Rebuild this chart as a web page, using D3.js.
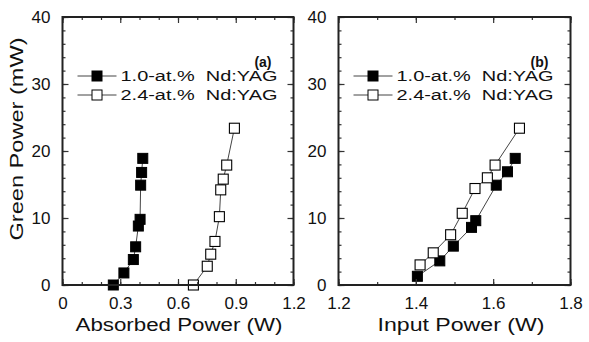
<!DOCTYPE html>
<html>
<head>
<meta charset="utf-8">
<script src="https://cdn.jsdelivr.net/npm/d3@7"></script>
<style>
  html, body { margin: 0; padding: 0; background: #fff; }
  svg { display: block; font-family: "Liberation Sans", Arial, sans-serif; }
</style>
</head>
<body>
<svg id="chart" width="589" height="342"></svg>
<script>
// Green output power versus pump power for two Nd:YAG doping levels
const seriesNames = ["1.0-at.%  Nd:YAG", "2.4-at.%  Nd:YAG"];

// (a) absorbed pump power (W) and green power (mW)
const absorbed10 = [0.264, 0.319, 0.368, 0.380, 0.394, 0.403, 0.406, 0.411, 0.417];
const green10a   = [0, 1.8, 3.8, 5.7, 8.8, 9.8, 14.9, 16.8, 18.9];
const absorbed24 = [0.680, 0.752, 0.770, 0.792, 0.815, 0.822, 0.835, 0.853, 0.893];
const green24a   = [0, 2.8, 4.6, 6.5, 10.2, 14.2, 15.8, 17.9, 23.4];

// (b) input pump power (W) and green power (mW)
const input10  = [1.404, 1.462, 1.497, 1.544, 1.555, 1.608, 1.637, 1.657];
const green10b = [1.3, 3.6, 5.8, 8.6, 9.6, 14.9, 16.9, 18.9];
const input24  = [1.411, 1.445, 1.490, 1.520, 1.553, 1.585, 1.605, 1.668];
const green24b = [3.0, 4.8, 7.5, 10.7, 14.4, 16.0, 17.9, 23.4];

// axis ticks
const yTicks = [0, 10, 20, 30, 40];
const yMinor = d3.range(0, 40.01, 2);
const xTicksA = [0, 0.3, 0.6, 0.9, 1.2];
const xMinorA = d3.range(0, 1.201, 0.1);
const xTicksB = [1.2, 1.4, 1.6, 1.8];
const xMinorB = d3.range(1.2, 1.801, 0.1);

const svg = d3.select("#chart");
const plotTop = 17, plotBottom = 285;

const panels = [
  {
    left: 62.5, right: 293.5, domain: [0, 1.2],
    ticks: xTicksA, minor: xMinorA, fmt: d => d === 0 ? "0" : d3.format(".1f")(d),
    series: [
      { x: absorbed10, y: green10a, filled: true },
      { x: absorbed24, y: green24a, filled: false }
    ],
    tag: "(a)", xTitle: "Absorbed Power (W)", xTitleX: 179, xTitleW: 207
  },
  {
    left: 338.5, right: 570.5, domain: [1.2, 1.8],
    ticks: xTicksB, minor: xMinorB, fmt: d3.format(".1f"),
    series: [
      { x: input10, y: green10b, filled: true },
      { x: input24, y: green24b, filled: false }
    ],
    tag: "(b)", xTitle: "Input Power (W)", xTitleX: 461, xTitleW: 167
  }
];

const ink = "#111";
const markerSize = 10;

panels.forEach(p => {
  const x = d3.scaleLinear().domain(p.domain).range([p.left, p.right]);
  const y = d3.scaleLinear().domain([0, 40]).range([plotBottom, plotTop]);
  const g = svg.append("g");

  // connecting lines and markers
  p.series.forEach(s => {
    const pts = s.x.map((v, i) => [v, s.y[i]]);
    g.append("path")
      .attr("d", d3.line().x(d => x(d[0])).y(d => y(d[1]))(pts))
      .attr("fill", "none").attr("stroke", "#444").attr("stroke-width", 1);
    g.selectAll(null).data(pts).enter().append("rect")
      .attr("x", d => x(d[0]) - markerSize / 2)
      .attr("y", d => y(d[1]) - markerSize / 2)
      .attr("width", markerSize).attr("height", markerSize)
      .attr("fill", s.filled ? "#000" : "#fff")
      .attr("stroke", "#000").attr("stroke-width", s.filled ? 1 : 1.1);
  });

  // axes with inward ticks on all four sides
  const addAxis = (axis, transform, labels) => {
    const a = g.append("g").attr("transform", transform).call(axis);
    a.select(".domain").remove();
    a.selectAll("line").attr("stroke", "#333").attr("stroke-width", 1.2);
    if (!labels) a.selectAll("text").remove();
    else a.selectAll("text").attr("fill", ink).attr("font-size", 17)
      .attr("font-family", "'Liberation Sans', Arial, sans-serif");
    return a;
  };

  addAxis(d3.axisBottom(x).tickValues(p.minor).tickSize(-3).tickFormat(""), `translate(0,${plotBottom})`, false);
  addAxis(d3.axisBottom(x).tickValues(p.ticks).tickSize(-6).tickPadding(12).tickFormat(p.fmt), `translate(0,${plotBottom})`, true);
  addAxis(d3.axisTop(x).tickValues(p.minor).tickSize(-3).tickFormat(""), `translate(0,${plotTop})`, false);
  addAxis(d3.axisTop(x).tickValues(p.ticks).tickSize(-6).tickFormat(""), `translate(0,${plotTop})`, false);
  addAxis(d3.axisLeft(y).tickValues(yMinor).tickSize(-3).tickFormat(""), `translate(${p.left},0)`, false);
  addAxis(d3.axisLeft(y).tickValues(yTicks).tickSize(-6).tickPadding(12).tickFormat(d3.format("d")), `translate(${p.left},0)`, true);
  addAxis(d3.axisRight(y).tickValues(yMinor).tickSize(-3).tickFormat(""), `translate(${p.right},0)`, false);
  addAxis(d3.axisRight(y).tickValues(yTicks).tickSize(-6).tickFormat(""), `translate(${p.right},0)`, false);

  // frame
  g.append("rect")
    .attr("x", p.left).attr("y", plotTop)
    .attr("width", p.right - p.left).attr("height", plotBottom - plotTop)
    .attr("fill", "none").attr("stroke", "#222").attr("stroke-width", 2);

  // panel tag
  g.append("text").attr("x", p.right - 22).attr("y", 67)
    .attr("text-anchor", "end").attr("font-weight", "bold").attr("font-size", 14)
    .attr("fill", ink).text(p.tag);

  // legend
  const legendRows = [76, 95];
  p.series.forEach((s, i) => {
    const ly = legendRows[i];
    const mx = p.left + 34.5;
    g.append("line").attr("x1", p.left + 15).attr("x2", p.left + 54)
      .attr("y1", ly).attr("y2", ly).attr("stroke", "#444").attr("stroke-width", 1);
    g.append("rect").attr("x", mx - markerSize / 2).attr("y", ly - markerSize / 2)
      .attr("width", markerSize).attr("height", markerSize)
      .attr("fill", s.filled ? "#000" : "#fff").attr("stroke", "#000").attr("stroke-width", 1);
    g.append("text").attr("x", p.left + 58).attr("y", ly + 5)
      .attr("font-size", 14).attr("fill", ink)
      .attr("textLength", 157).attr("lengthAdjust", "spacingAndGlyphs")
      .style("white-space", "pre")
      .text(seriesNames[i]);
  });

  // x-axis title
  g.append("text").attr("x", p.xTitleX).attr("y", 331)
    .attr("text-anchor", "middle").attr("font-size", 18).attr("fill", ink)
    .attr("textLength", p.xTitleW).attr("lengthAdjust", "spacingAndGlyphs")
    .text(p.xTitle);
});

// y-axis title
svg.append("text")
  .attr("transform", "translate(23,139) rotate(-90)")
  .attr("text-anchor", "middle").attr("font-size", 19).attr("fill", ink)
  .attr("textLength", 203).attr("lengthAdjust", "spacingAndGlyphs")
  .text("Green Power (mW)");
</script>
</body>
</html>
